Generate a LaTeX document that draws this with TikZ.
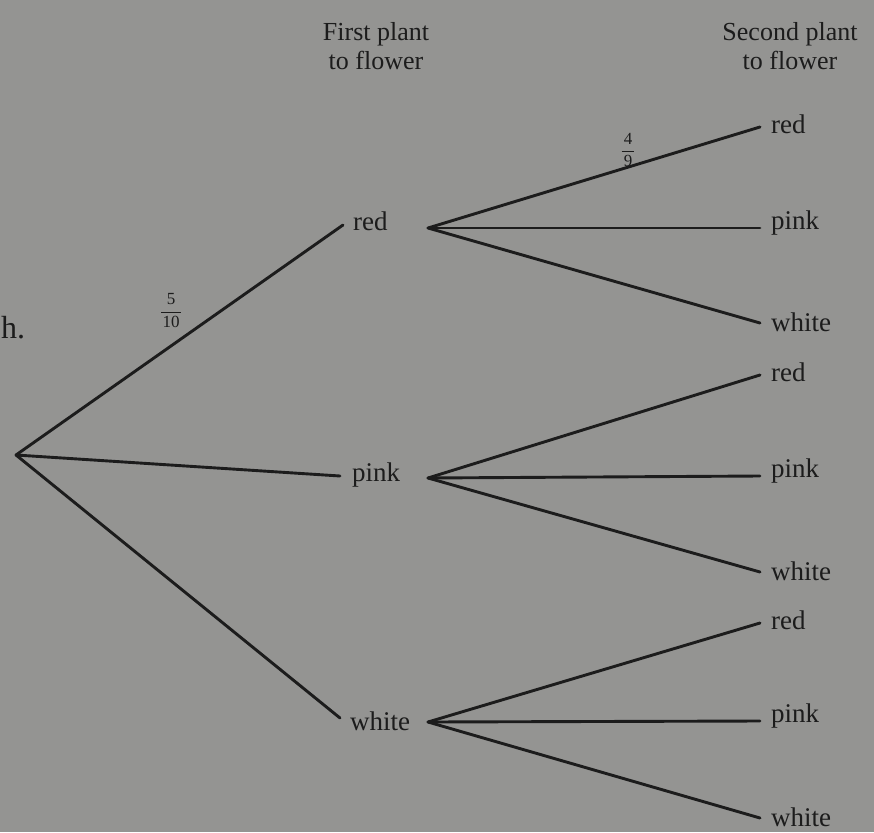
\documentclass[tikz,border=0pt]{standalone}
\usepackage{fontspec}
\setmainfont{Liberation Serif}
\definecolor{paper}{RGB}{148,148,146}
\definecolor{ink}{RGB}{28,28,28}
\begin{document}
\begin{tikzpicture}[x=1pt,y=-1pt,
  branch/.style={draw=ink,line width=2.9pt,line cap=round},
  lbl/.style={text=ink,font=\fontsize{27}{29}\selectfont,inner sep=0pt,anchor=west},
  head/.style={text=ink,font=\fontsize{26}{29}\selectfont,align=center,inner sep=0pt},
  digit/.style={text=ink,font=\fontsize{17}{18}\selectfont,inner sep=0pt},
  fracbar/.style={draw=ink,line width=1pt}]
  % page background
  \fill[paper] (0,0) rectangle (874,832);
  \useasboundingbox (0,0) rectangle (874,832);

  % column headings
  \node[head] (h1) at (376,46) {First plant\\to flower};
  \node[head] (h2) at (790,46) {Second plant\\to flower};

  % stray text from the page
  \node[lbl,font=\fontsize{32}{34}\selectfont] (hdot) at (1,328) {h.};

  % root and first-level branch ends
  \coordinate (root) at (16,455);
  \coordinate (e1) at (343,225);
  \coordinate (e2) at (340,476);
  \coordinate (e3) at (340,718);
  \node[lbl] (f1) at (353,221) {red};
  \node[lbl] (f2) at (352,475) {pink};
  \node[lbl] (f3) at (350,721) {white};

  % second-level branch points
  \coordinate (s1) at (428,228);
  \coordinate (s2) at (428,478);
  \coordinate (s3) at (428,722);

  % second-level leaves
  \foreach \g/\yr/\yp/\yw in {1/127/228/323, 2/375/476/572, 3/623/721/818}{
    \coordinate (g\g r) at (760,\yr);
    \coordinate (g\g p) at (760,\yp);
    \coordinate (g\g w) at (760,\yw);
    \node[lbl] (l\g r) at (771,\yr-3) {red};
    \node[lbl] (l\g p) at (771,\yp-5) {pink};
    \node[lbl] (l\g w) at (771,\yw-1) {white};
    \draw[branch] (s\g) -- (g\g r);
    \draw[branch] (s\g) -- (g\g p);
    \draw[branch] (s\g) -- (g\g w);
  }

  % first-level branches
  \draw[branch] (root) -- (e1);
  \draw[branch] (root) -- (e2);
  \draw[branch] (root) -- (e3);

  % probabilities, set as stacked fractions
  \node[digit] (p1n) at (171,299) {5};
  \node[digit] (p1d) at (171,322) {10};
  \draw[fracbar] ([xshift=-1pt,yshift=3.5pt]p1d.north west) -- ([xshift=1pt,yshift=3.5pt]p1d.north east);
  \node[digit] (p2n) at (628,139) {4};
  \node[digit] (p2d) at (628,161) {9};
  \draw[fracbar] ([xshift=-2pt,yshift=3.5pt]p2d.north west) -- ([xshift=2pt,yshift=3.5pt]p2d.north east);
\end{tikzpicture}
\end{document}
